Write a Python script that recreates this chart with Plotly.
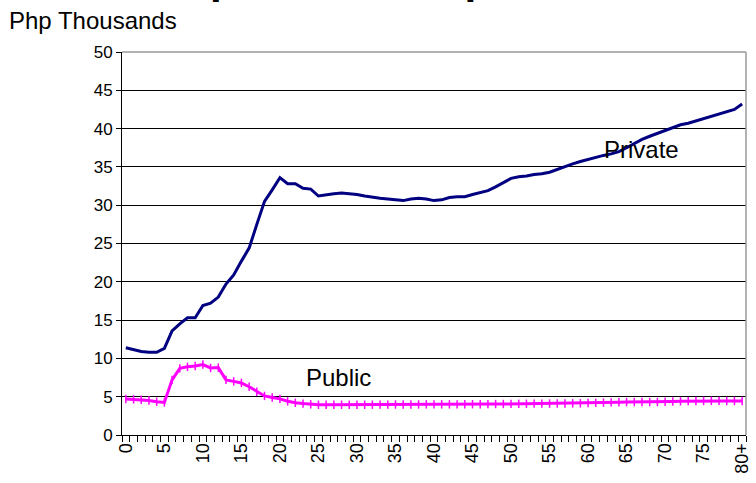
import plotly.graph_objects as go

ages = [str(i) for i in range(80)] + ["80+"]

private = [11.4, 11.1, 10.9, 10.8, 10.8, 11.3, 13.6, 14.5, 15.3, 15.3,
           16.9, 17.2, 18.0, 19.7, 20.9, 22.7, 24.4, 27.5, 30.5, 32.0,
           33.6, 32.8, 32.8, 32.2, 32.1, 31.2, 31.4, 31.5, 31.6, 31.5,
           31.4, 31.2, 31.0, 30.9, 30.8, 30.7, 30.6, 30.8, 30.9, 30.8,
           30.6, 30.7, 31.0, 31.1, 31.1, 31.4, 31.6, 31.9, 32.4, 33.0,
           33.5, 33.7, 33.8, 34.0, 34.1, 34.3, 34.7, 35.0, 35.4, 35.7,
           36.0, 36.2, 36.5, 36.7, 37.0, 37.5, 38.1, 38.6, 39.0, 39.4,
           39.8, 40.2, 40.5, 40.7, 41.0, 41.4, 41.6, 41.9, 42.2, 42.5,
           43.2]

public = [4.7, 4.65, 4.6, 4.5, 4.35, 4.25, 7.2, 8.7, 8.9, 9.0,
          9.2, 8.75, 8.8, 7.2, 7.0, 6.8, 6.3, 5.65, 5.1, 4.9,
          4.72, 4.4, 4.2, 4.1, 4.0, 3.95, 3.95, 3.95, 3.95, 3.95,
          3.95, 3.95, 3.96, 3.97, 3.97, 3.98, 3.98, 3.99, 3.99, 4.0,
          4.0, 4.0, 4.0, 4.0, 4.01, 4.02, 4.02, 4.03, 4.04, 4.05,
          4.06, 4.07, 4.08, 4.09, 4.1, 4.1, 4.11, 4.12, 4.13, 4.14,
          4.17, 4.2, 4.23, 4.26, 4.28, 4.3, 4.3, 4.3, 4.3, 4.31,
          4.34, 4.37, 4.4, 4.42, 4.43, 4.45, 4.46, 4.45, 4.44, 4.44,
          4.44]

y_ticks = [0, 5, 10, 15, 20, 25, 30, 35, 40, 45, 50]
x_labels = [a if (i % 5 == 0 or a == "80+") else "" for i, a in enumerate(ages)]

FONT = "Liberation Sans, Arial, sans-serif"

fig = go.Figure()
fig.add_trace(go.Scatter(x=ages, y=private, mode="lines",
                         line=dict(color="#000080", width=3), name="Private"))
fig.add_trace(go.Scatter(x=ages, y=public, mode="lines+markers",
                         line=dict(color="#FF00FF", width=3),
                         marker=dict(symbol="line-ns", size=6,
                                     line=dict(color="#FF00FF", width=1.5)),
                         name="Public"))

fig.update_layout(
    width=756, height=483,
    margin=dict(l=122, r=4, t=52, b=48),
    paper_bgcolor="white", plot_bgcolor="white",
    showlegend=False,
    font=dict(family=FONT, color="black"),
    xaxis=dict(type="category", range=[-0.5, 80.5],
               tickvals=ages, ticktext=x_labels, tickson="boundaries",
               ticks="outside", ticklen=6, tickcolor="black", tickwidth=1,
               tickangle=-90, tickfont=dict(size=18),
               showgrid=False, showline=True, linecolor="black", linewidth=1,
               zeroline=False),
    yaxis=dict(range=[0, 50], tickvals=y_ticks,
               ticks="outside", ticklen=5, tickcolor="black",
               tickfont=dict(size=17),
               showgrid=True, gridcolor="black", gridwidth=1,
               showline=True, linecolor="black", linewidth=1,
               zeroline=False),
)

# gray plot-area border on top and right
fig.add_shape(type="line", xref="paper", yref="paper", x0=0, x1=1, y0=1, y1=1,
              line=dict(color="#999999", width=1.5))
fig.add_shape(type="line", xref="paper", yref="paper", x0=1, x1=1, y0=0, y1=1,
              line=dict(color="#999999", width=1.5))

fig.add_annotation(text="Php Thousands", xref="paper", yref="paper",
                   x=(6 - 122) / 630, y=(435 - 21) / 383, xanchor="left", yanchor="middle",
                   showarrow=False, font=dict(size=24))
fig.add_annotation(text="Private", xref="x", yref="y", x="66", y=37.3, xshift=7,
                   showarrow=False, font=dict(size=24))
fig.add_annotation(text="Public", xref="x", yref="y", x="27", y=7.5, xshift=5,
                   showarrow=False, font=dict(size=24))
# chart title (mostly cropped off at the top in the reference)
fig.add_annotation(text="<b>Per Capita Consumption</b>", xref="paper", yref="paper",
                   x=(75 - 122) / 630, y=1.126, xanchor="left", yanchor="bottom",
                   showarrow=False, font=dict(size=42))

fig.write_html("out.html", config={"displayModeBar": False},
               post_script="document.body.style.margin='0';")
